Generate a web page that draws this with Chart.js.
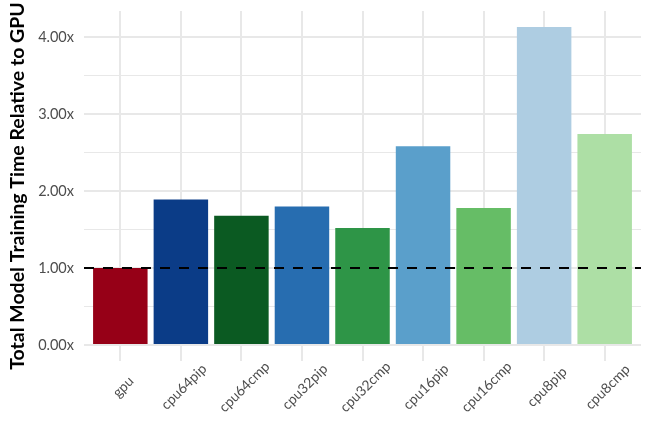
<!DOCTYPE html>
<html>
<head>
<meta charset="utf-8">
<script src="https://cdn.jsdelivr.net/npm/chart.js@4/dist/chart.umd.min.js"></script>
<style>
	html, body { margin: 0; padding: 0; background: #fff; }
	#wrap { width: 652px; height: 422px; position: relative; }
</style>
</head>
<body>
<div id="wrap"><canvas id="chart"></canvas></div>
<script>
// Training time of each config relative to the gpu run.
const configs = ['gpu', 'cpu64pip', 'cpu64cmp', 'cpu32pip', 'cpu32cmp', 'cpu16pip', 'cpu16cmp', 'cpu8pip', 'cpu8cmp'];
const relTime = [1.00, 1.89, 1.68, 1.80, 1.52, 2.58, 1.78, 4.13, 2.74];
const baseline = 1.0;
const yTicks = [0, 0.5, 1, 1.5, 2, 2.5, 3, 3.5, 4];
const barColors = ['#960017', '#0b3c87', '#0b5a22', '#276db0', '#2e9547', '#5a9fcb', '#66bd66', '#aecde2', '#addfa5'];

const GRID = '#e8e8e8';
const FONT = 'Lato, "Noto Sans", sans-serif';

// Chart.js right-aligns rotated labels; the reference centres them on the tick.
const centredXLabels = {
	id: 'centredXLabels',
	afterDraw(chart) {
		const { ctx, scales: { x } } = chart;
		ctx.save();
		ctx.fillStyle = '#4d4d4d';
		ctx.font = '14px ' + FONT;
		ctx.textAlign = 'center';
		ctx.textBaseline = 'middle';
		x.ticks.forEach(t => {
			ctx.save();
			ctx.translate(x.getPixelForValue(t.value) + 3, x.top + 26);
			ctx.rotate(-Math.PI / 4);
			ctx.fillText(configs[t.value], 0, 0);
			ctx.restore();
		});
		ctx.restore();
	},
};

new Chart(document.getElementById('chart'), {
	data: {
		datasets: [
			{
				type: 'line',
				data: [{ x: -0.6, y: baseline }, { x: configs.length - 0.4, y: baseline }],
				borderColor: '#000',
				borderWidth: 2,
				borderDash: [10, 9],
				pointRadius: 0,
				order: 0,
			},
			{
				type: 'bar',
				data: relTime.map((v, i) => ({ x: i, y: v })),
				backgroundColor: barColors,
				barPercentage: 0.9,
				categoryPercentage: 1,
				order: 1,
			},
		],
	},
	plugins: [centredXLabels],
	options: {
		responsive: true,
		maintainAspectRatio: false,
		animation: false,
		layout: { padding: { top: 11, right: 11, left: 0, bottom: 0 } },
		plugins: { legend: { display: false }, tooltip: { enabled: false } },
		scales: {
			x: {
				type: 'linear',
				offset: false,
				min: -0.6,
				max: configs.length - 0.4,
				afterBuildTicks(scale) { scale.ticks = configs.map((c, i) => ({ value: i })); },
				afterFit(scale) { scale.height = 61; scale.paddingLeft = 0; scale.paddingRight = 0; },
				ticks: { display: false },
				grid: { color: GRID, lineWidth: 2, drawTicks: false, offset: false },
				border: { display: false },
			},
			y: {
				min: -0.2065,
				max: 4.3365,
				afterBuildTicks(scale) { scale.ticks = yTicks.map(v => ({ value: v })); },
				afterFit(scale) { scale.width = 84; scale.paddingTop = 0; scale.paddingBottom = 0; },
				ticks: {
					color: '#4d4d4d',
					font: { family: FONT, size: 14.5 },
					padding: 10,
					callback(v) { return Number.isInteger(v) ? v.toFixed(2) + 'x' : ''; },
				},
				grid: {
					color: GRID,
					lineWidth: ctx => (Number.isInteger(ctx.tick && ctx.tick.value) ? 2 : 1),
					drawTicks: false,
				},
				border: { display: false },
				title: {
					display: true,
					text: 'Total Model Training Time Relative to GPU',
					color: '#000',
					font: { family: FONT, size: 19.5, weight: 'bold' },
					padding: { top: 6, bottom: 0 },
				},
			},
		},
	},
});
</script>
</body>
</html>
